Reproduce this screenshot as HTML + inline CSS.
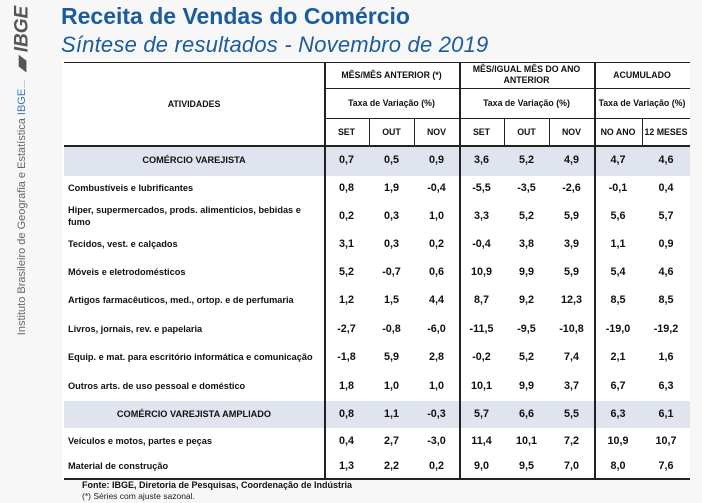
<!DOCTYPE html>
<html><head><meta charset="utf-8">
<style>
body{margin:0;width:702px;height:503px;background:#f7f7f7;font-family:"Liberation Sans",sans-serif;position:relative;overflow:hidden}
.a{position:absolute}
.c{position:absolute;display:flex;align-items:center;justify-content:center;text-align:center;color:#111;font-weight:bold;line-height:1.25}
.hl{position:absolute;background:#222;height:1px}
.vl{position:absolute;background:#222;width:1px}
</style></head><body>
<div class="a" style="left:4px;top:6px;width:36px;height:66px;">
 <div style="position:absolute;left:18px;top:33px;transform:translate(-50%,-50%) rotate(-90deg);font:italic bold 19px 'Liberation Sans',sans-serif;color:#555;white-space:nowrap">▰ IBGE</div>
</div>
<div class="a" style="left:24px;top:80px;width:1px;height:8px;background:#ccc"></div>
<div class="a" style="left:22px;top:212px;transform:translate(-50%,-50%) rotate(-90deg);font-size:11px;color:#666;white-space:nowrap">Instituto Brasileiro de Geografia e Estatística <span style="color:#3a78b8">IBGE</span></div>
<div class="a" style="left:61px;top:3px;font-size:23px;font-weight:bold;color:#1b5c9e;white-space:nowrap">Receita de Vendas do Comércio</div>
<div class="a" style="left:61px;top:32px;font-size:22px;font-style:italic;color:#1b5c9e;white-space:nowrap;letter-spacing:0.2px">Síntese de resultados - Novembro de 2019</div>
<div id="tbl" class="a" style="left:0;top:0;width:702px;height:503px"></div>
<div class="a" style="left:82px;top:480px;font-size:9px;font-weight:bold;color:#111">Fonte: IBGE, Diretoria de Pesquisas, Coordenação de Indústria</div>
<div class="a" style="left:82px;top:491px;font-size:8.5px;color:#222">(*) Séries com ajuste sazonal.</div>
<script>
const activities=["COMÉRCIO VAREJISTA","Combustíveis e lubrificantes","Hiper, supermercados, prods.  alimentícios, bebidas e fumo","Tecidos, vest. e calçados","Móveis e eletrodomésticos","Artigos farmacêuticos, med., ortop. e de perfumaria","Livros, jornais, rev. e papelaria","Equip. e mat. para escritório informática e comunicação","Outros arts. de uso pessoal e doméstico","COMÉRCIO VAREJISTA AMPLIADO","Veículos e motos, partes e peças","Material de construção"];
const momSet=["0,7","0,8","0,2","3,1","5,2","1,2","-2,7","-1,8","1,8","0,8","0,4","1,3"];
const momOut=["0,5","1,9","0,3","0,3","-0,7","1,5","-0,8","5,9","1,0","1,1","2,7","2,2"];
const momNov=["0,9","-0,4","1,0","0,2","0,6","4,4","-6,0","2,8","1,0","-0,3","-3,0","0,2"];
const yoySet=["3,6","-5,5","3,3","-0,4","10,9","8,7","-11,5","-0,2","10,1","5,7","11,4","9,0"];
const yoyOut=["5,2","-3,5","5,2","3,8","9,9","9,2","-9,5","5,2","9,9","6,6","10,1","9,5"];
const yoyNov=["4,9","-2,6","5,9","3,9","5,9","12,3","-10,8","7,4","3,7","5,5","7,2","7,0"];
const accYear=["4,7","-0,1","5,6","1,1","5,4","8,5","-19,0","2,1","6,7","6,3","10,9","8,0"];
const acc12=["4,6","0,4","5,7","0,9","4,6","8,5","-19,2","1,6","6,3","6,1","10,7","7,6"];
const shaded=[true,false,false,false,false,false,false,false,false,true,false,false];
const rowEdges=[146,176,202,231,259,287,315,344,372,401,428,455,479];
const colX=[64,324,369,414,459,504,549,594,642,690];
const T=document.getElementById('tbl');
function box(x,y,w,h,txt,fs,name,align){
 const d=document.createElement('div');d.className='c';
 d.style.cssText+=`left:${x}px;top:${y}px;width:${w}px;height:${h}px;font-size:${fs}px;`;
 if(align){d.style.justifyContent='flex-start';d.style.textAlign='left';d.style.paddingLeft='4px';d.style.paddingRight='6px';d.style.boxSizing='border-box';}
 d.innerHTML=txt;
 
 
 T.appendChild(d);return d;}
function line(cls,x,y,len,th,name){const d=document.createElement('div');d.className=cls;
 if(cls==='hl'){d.style.left=x+'px';d.style.top=y+'px';d.style.width=len+'px';d.style.height=th+'px';}
 else{d.style.left=x+'px';d.style.top=y+'px';d.style.height=len+'px';d.style.width=th+'px';}
 
 
 T.appendChild(d);}
const bg=document.createElement('div');bg.className='a';bg.style.cssText='left:62px;top:60px;width:628px;height:420px;background:#fff';


T.appendChild(bg);
for(let i=0;i<activities.length;i++){if(shaded[i]){const s=document.createElement('div');s.className='a';
 s.style.cssText=`left:64px;top:${rowEdges[i]}px;width:626px;height:${rowEdges[i+1]-rowEdges[i]}px;background:#dfe4ee`;
 
 
 T.appendChild(s);}}
box(64,62,260,84,'ATIVIDADES',8.8,'activities-header');
const groups=[['MÊS/MÊS ANTERIOR (*)',1],['MÊS/IGUAL MÊS DO ANO<br>ANTERIOR',4],['ACUMULADO',7]];
groups.forEach(g=>{const x0=colX[g[1]],x1=colX[g[1]+3]||690;
 box(x0,62,x1-x0,26,g[0],8.8,'group-header');
 box(x0,88,x1-x0,30,'Taxa de Variação (%)',8.8,'rate-header');});
const subs=['SET','OUT','NOV','SET','OUT','NOV','NO ANO','12 MESES'];
subs.forEach((s,i)=>box(colX[i+1],118,colX[i+2]-colX[i+1],28,s,8.8,'month-header'));
const series=[momSet,momOut,momNov,yoySet,yoyOut,yoyNov,accYear,acc12];
activities.forEach((a,i)=>{const y=rowEdges[i],h=rowEdges[i+1]-y;
 if(shaded[i]) box(64,y,260,h,a,9.2,'activity-label');
 else box(64,y,260,h,a,9.2,'activity-label',true);
 series.forEach((s,j)=>box(colX[j+1],y,colX[j+2]-colX[j+1],h,s[i],10.8,'value-cell'));});
line('hl',64,62,626,1,'top-border');
line('hl',324,88,366,1,'header-rule');
line('hl',324,118,366,1,'header-rule');
line('hl',64,145,626,2,'header-bottom-rule');
line('hl',64,478,626,2,'bottom-border');
[324,459,594].forEach(x=>line('vl',x,62,417,1.5,'group-separator'));
[369,414,504,549,642].forEach(x=>line('vl',x,118,28,1,'header-cell-separator'));
</script>
</body></html>
